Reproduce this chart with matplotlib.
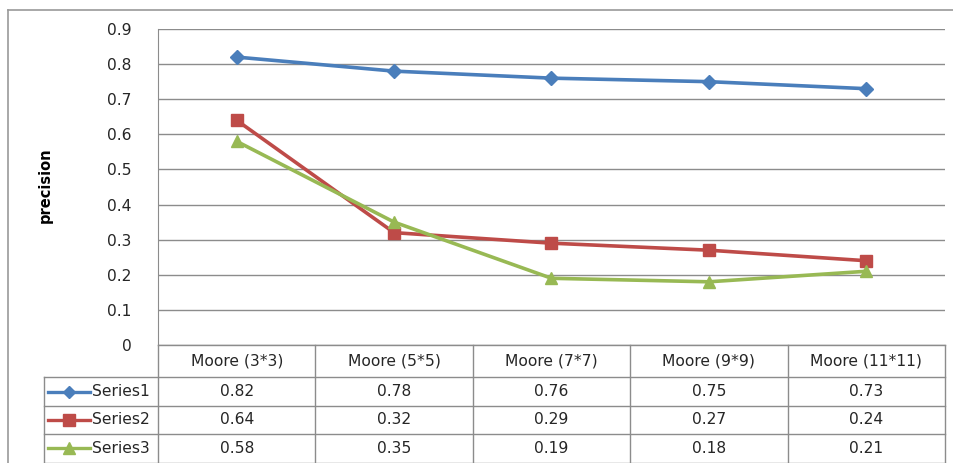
import matplotlib
matplotlib.use("Agg")
import matplotlib.pyplot as plt
from matplotlib.lines import Line2D

categories = ["Moore (3*3)", "Moore (5*5)", "Moore (7*7)", "Moore (9*9)", "Moore (11*11)"]
series_names = ["Series1", "Series2", "Series3"]
series1 = [0.82, 0.78, 0.76, 0.75, 0.73]
series2 = [0.64, 0.32, 0.29, 0.27, 0.24]
series3 = [0.58, 0.35, 0.19, 0.18, 0.21]
y_ticks = [0, 0.1, 0.2, 0.3, 0.4, 0.5, 0.6, 0.7, 0.8, 0.9]

colors = ["#4A7EBB", "#BE4B48", "#98B954"]
markers = ["D", "s", "^"]
msizes = [7, 9, 9]

plt.rcParams["font.family"] = ["DejaVu Sans"]
FS = 11.2
GRID = "#8c8c8c"
TXT = "#262626"

W, H = 954, 463
fig = plt.figure(figsize=(W / 100, H / 100), dpi=100)


def px_rect(x0, y0, x1, y1):
    # pixel box (top-left origin) -> figure fraction
    return [x0 / W, 1 - y1 / H, (x1 - x0) / W, (y1 - y0) / H]


# outer chart frame
fig.add_artist(Line2D([8.5 / W, 8.5 / W], [0, 1 - 10 / H], color="#9a9a9a", lw=1.2))
fig.add_artist(Line2D([8.5 / W, 1], [1 - 10 / H, 1 - 10 / H], color="#9a9a9a", lw=1.2))

x_left, x_right = 158, 945
y_top, y_zero = 29, 345
ax = fig.add_axes(px_rect(x_left, y_top, x_right, y_zero))
xs = [i + 0.5 for i in range(len(categories))]
for vals, c, m, ms in zip([series1, series2, series3], colors, markers, msizes):
    ax.plot(xs, vals, color=c, lw=2.6, marker=m, markersize=ms, zorder=3)
ax.set_xlim(0, len(categories))
ax.set_ylim(0, 0.9)
ax.set_yticks(y_ticks)
ax.set_yticklabels([f"{v:g}" for v in y_ticks], fontsize=FS, color=TXT)
ax.set_xticks([])
ax.tick_params(axis="y", length=0, pad=19)
ax.grid(axis="y", color=GRID, lw=1)
for s in ["top", "right", "bottom"]:
    ax.spines[s].set_visible(False)
ax.spines["left"].set_color(GRID)
ax.set_ylabel("precision", fontsize=10.5, fontweight="bold", labelpad=0)
ax.yaxis.set_label_coords((53 - x_left) / (x_right - x_left), (y_zero - 185) / (y_zero - y_top))

# data table under the plot
tab_left, tab_bottom = 44, 463
col_w = (x_right - x_left) / len(categories)
tab = fig.add_axes(px_rect(tab_left, y_zero, x_right, tab_bottom))
x0 = -(x_left - tab_left) / col_w
tab.set_xlim(x0, len(categories))
tab.set_ylim(tab_bottom - y_zero, 0)
tab.axis("off")
rows = [0, 32, 61, 89, 117.5]
lc = GRID
tab.plot([0, len(categories)], [rows[0], rows[0]], color=lc, lw=1, clip_on=False)
for r in rows[1:]:
    tab.plot([x0, len(categories)], [r, r], color=lc, lw=1, clip_on=False)
for i in range(len(categories) + 1):
    tab.plot([i, i], [rows[0], rows[-1]], color=lc, lw=1, clip_on=False)
tab.plot([x0, x0], [rows[1], rows[-1]], color=lc, lw=1, clip_on=False)

for i, cat in enumerate(categories):
    tab.text(i + 0.5, (rows[0] + rows[1]) / 2, cat, ha="center", va="center", fontsize=FS, color=TXT)
for j, (name, vals) in enumerate(zip(series_names, [series1, series2, series3])):
    yc = (rows[j + 1] + rows[j + 2]) / 2
    for i, v in enumerate(vals):
        tab.text(i + 0.5, yc, f"{v:.2f}", ha="center", va="center", fontsize=FS, color=TXT)
    k0 = x0 + 4 / col_w
    k1 = x0 + 46 / col_w
    tab.plot([k0, k1], [yc, yc], color=colors[j], lw=2.4, clip_on=False)
    tab.plot([(k0 + k1) / 2], [yc], color=colors[j], marker=markers[j],
             markersize=msizes[j] - 1, clip_on=False)
    tab.text(x0 + 48 / col_w, yc, name, ha="left", va="center", fontsize=FS, color=TXT)

fig.savefig("out.png", dpi=100)
